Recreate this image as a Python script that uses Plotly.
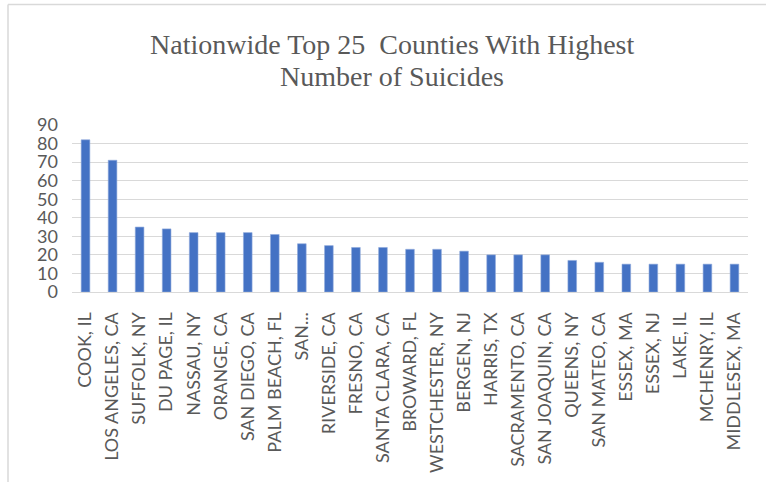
import plotly.graph_objects as go

counties = ["COOK, IL", "LOS ANGELES, CA", "SUFFOLK, NY", "DU PAGE, IL", "NASSAU, NY",
            "ORANGE, CA", "SAN DIEGO, CA", "PALM BEACH, FL", "SAN...", "RIVERSIDE, CA",
            "FRESNO, CA", "SANTA CLARA, CA", "BROWARD, FL", "WESTCHESTER, NY", "BERGEN, NJ",
            "HARRIS, TX", "SACRAMENTO, CA", "SAN JOAQUIN, CA", "QUEENS, NY", "SAN MATEO, CA",
            "ESSEX, MA", "ESSEX, NJ", "LAKE, IL", "MCHENRY, IL", "MIDDLESEX, MA"]
suicides = [82, 71, 35, 34, 32, 32, 32, 31, 26, 25, 24, 24, 23, 23, 22, 20, 20, 20, 17, 16,
            15, 15, 15, 15, 15]
y_ticks = [0, 10, 20, 30, 40, 50, 60, 70, 80, 90]
title_lines = ["Nationwide Top 25\u00a0 Counties With Highest", "Number of Suicides"]

W, H = 766, 482
ML, MR, MT, MB = 72, 18, 125, 190
PW, PH = W - ML - MR, H - MT - MB

def px_x(px):
    return (px - ML) / PW

def px_y(py):
    return (H - MB - py) / PH

fig = go.Figure(go.Bar(
    x=counties, y=suicides,
    marker=dict(color="#4472C4", line=dict(color="#8FAADC", width=0.6)),
))

grid = "#d9d9d9"
title_font = dict(family="Liberation Serif", size=28, color="#595959")
annotations = []
for text, cy in zip(title_lines, [44, 76]):
    annotations.append(dict(
        text=text, showarrow=False, xref="paper", yref="paper",
        x=px_x(392), y=px_y(cy), xanchor="center", yanchor="middle",
        font=title_font,
    ))

fig.update_layout(
    width=W, height=H,
    margin=dict(l=ML, r=MR, t=MT, b=MB, pad=0, autoexpand=False),
    paper_bgcolor="white", plot_bgcolor="white",
    bargap=0.68,
    showlegend=False,
    annotations=annotations,
    font=dict(family="Lato", color="#595959"),
    xaxis=dict(
        tickangle=-90, tickfont=dict(size=18, color="#595959", family="Lato"),
        showline=True, linecolor=grid, linewidth=1, ticks="", showgrid=False,
        ticklabelstandoff=12, automargin=False,
    ),
    yaxis=dict(
        range=[0, 90], tickvals=y_ticks, ticktext=[str(v) for v in y_ticks],
        tickfont=dict(size=18, color="#595959", family="Lato"),
        showgrid=True, gridcolor=grid, gridwidth=1, zeroline=False,
        showline=False, ticks="", ticklabelstandoff=13, automargin=False,
    ),
    shapes=[
        dict(type="line", xref="paper", yref="paper",
             x0=px_x(8), x1=px_x(8), y0=px_y(4.5), y1=px_y(490),
             line=dict(color=grid, width=1.5)),
        dict(type="line", xref="paper", yref="paper",
             x0=px_x(8), x1=px_x(780), y0=px_y(4.5), y1=px_y(4.5),
             line=dict(color=grid, width=1.5)),
    ],
)

fig.write_html("out.html")
